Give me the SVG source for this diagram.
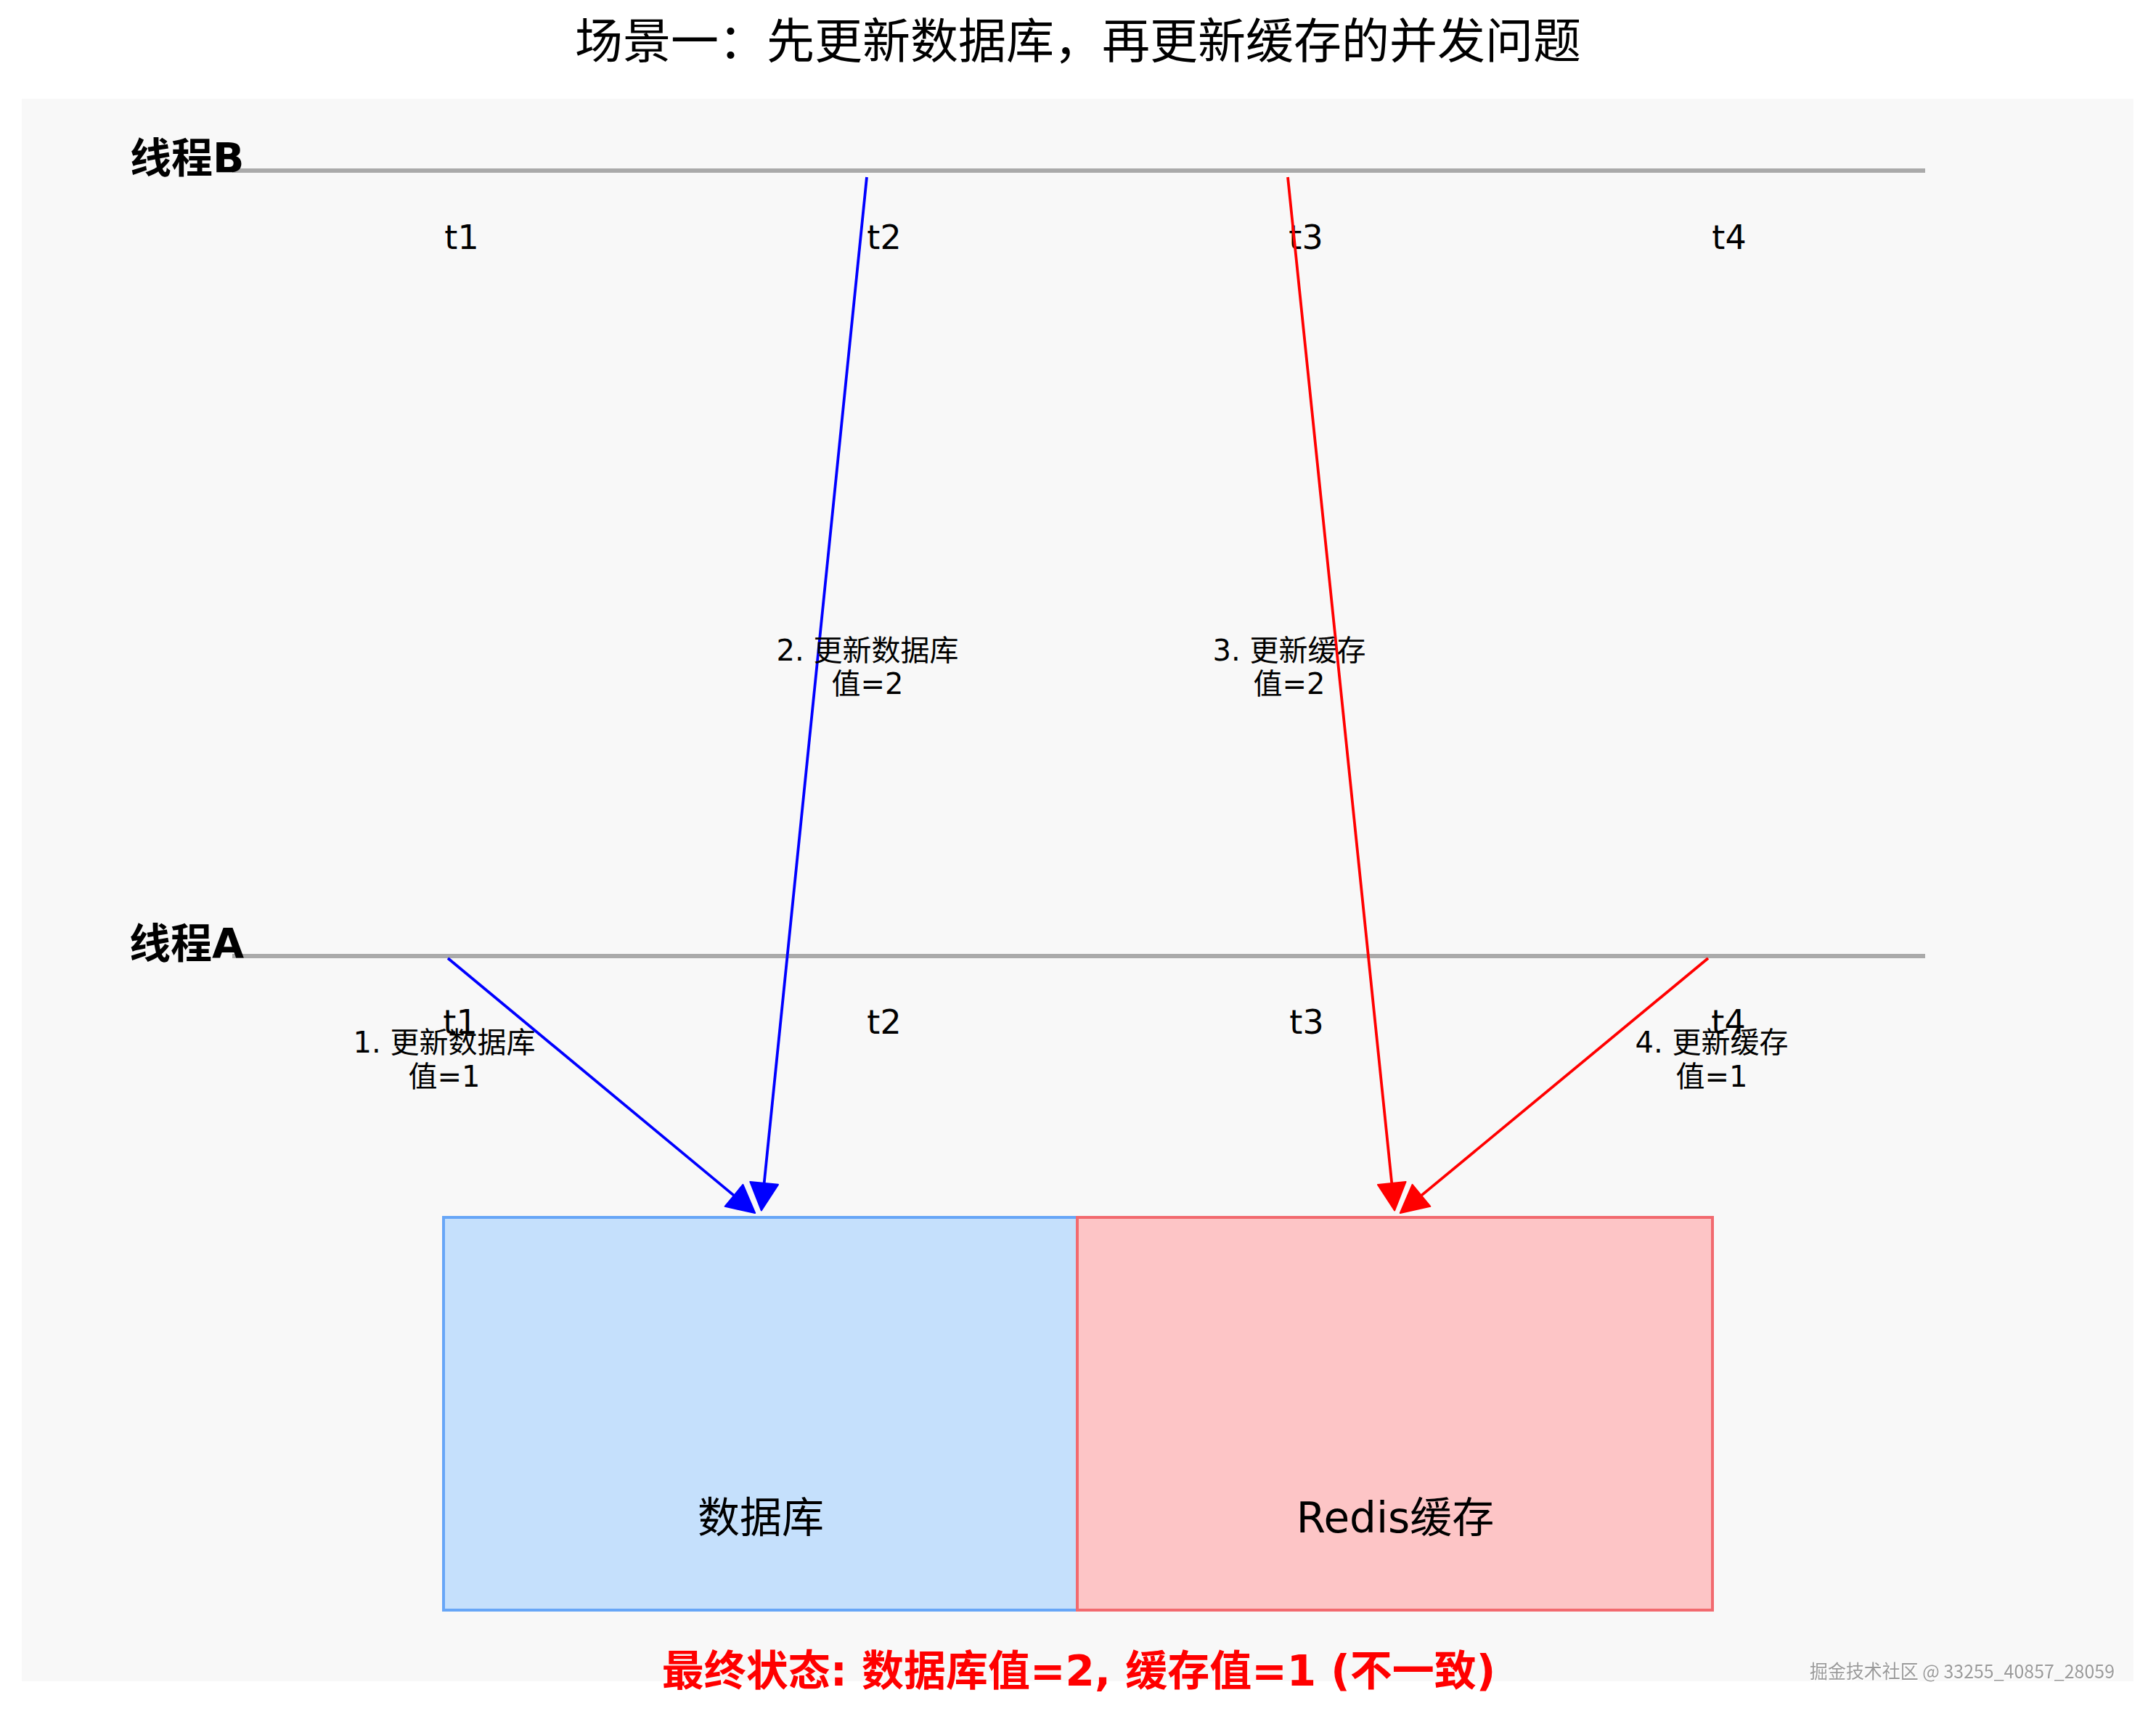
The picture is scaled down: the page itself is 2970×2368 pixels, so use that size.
<svg xmlns="http://www.w3.org/2000/svg" width="2970" height="2368" viewBox="0 0 2970 2368">
  <style>
    text { font-family: "DejaVu Sans", "Noto Sans CJK SC", sans-serif; fill: #000; }
    .title { font-size: 66px; text-anchor: middle; }
    .thread { font-size: 57px; font-weight: bold; }
    .tick { font-size: 46px; text-anchor: middle; }
    .lbl { font-size: 40px; text-anchor: middle; }
    .boxlbl { font-size: 58px; text-anchor: middle; }
    .final { font-size: 58px; font-weight: bold; text-anchor: middle; fill: #ff0000; }
    .wm { font-family: "Noto Sans CJK SC", sans-serif; font-size: 26px; fill: #9a9a9a; }
    .timeline { stroke: #aaaaaa; stroke-width: 6; fill: none; }
    .blue { stroke: #0000ff; stroke-width: 3.8; fill: none; }
    .red { stroke: #ff0000; stroke-width: 3.8; fill: none; }
  </style>
  <defs>
    <marker id="headBlue" markerUnits="userSpaceOnUse" markerWidth="44" markerHeight="44" viewBox="-2 -20 42 40" refX="6" refY="0" orient="auto">
      <path d="M0,-18.5 L36,0 L0,18.5 Z" fill="#0000ff" stroke="#0000ff" stroke-width="2" stroke-linejoin="round"/>
    </marker>
    <marker id="headRed" markerUnits="userSpaceOnUse" markerWidth="44" markerHeight="44" viewBox="-2 -20 42 40" refX="6" refY="0" orient="auto">
      <path d="M0,-18.5 L36,0 L0,18.5 Z" fill="#ff0000" stroke="#ff0000" stroke-width="2" stroke-linejoin="round"/>
    </marker>
    <filter id="emboss" x="-5%" y="-30%" width="110%" height="160%">
      <feDropShadow dx="1.5" dy="1.5" stdDeviation="0.4" flood-color="#ffffff" flood-opacity="1"/>
    </filter>
  </defs>

  <rect x="0" y="0" width="2970" height="2368" fill="#ffffff"/>
  <text class="title" x="1485" y="80">场景一：先更新数据库，再更新缓存的并发问题</text>

  <rect id="panel" x="30" y="136" width="2909" height="2180" fill="#f8f8f8"/>

  <g id="threadB">
    <line class="timeline" x1="320" y1="235" x2="2652" y2="235"/>
    <text class="thread" x="179" y="238">线程B</text>
    <text class="tick" x="636" y="343">t1</text>
    <text class="tick" x="1218" y="343">t2</text>
    <text class="tick" x="1799" y="343">t3</text>
    <text class="tick" x="2382" y="343">t4</text>
  </g>

  <g id="threadA">
    <line class="timeline" x1="320" y1="1317" x2="2652" y2="1317"/>
    <text class="thread" x="178" y="1320">线程A</text>
    <text class="tick" x="634" y="1424">t1</text>
    <text class="tick" x="1218" y="1424">t2</text>
    <text class="tick" x="1800" y="1424">t3</text>
    <text class="tick" x="2381" y="1424">t4</text>
  </g>

  <g id="database">
    <rect x="611" y="1677" width="873" height="541" fill="#c5e0fc" stroke="#67a6f7" stroke-width="4"/>
    <text class="boxlbl" x="1048" y="2111">数据库</text>
  </g>

  <g id="redis">
    <rect x="1484" y="1677" width="875" height="541" fill="#fdc5c6" stroke="#f26a6f" stroke-width="4"/>
    <text class="boxlbl" x="1922" y="2111">Redis缓存</text>
  </g>

  <g id="connectors">
    <line class="blue" x1="617" y1="1320" x2="1015.9" y2="1650.9" marker-end="url(#headBlue)"/>
    <line class="blue" x1="1194" y1="244" x2="1052.0" y2="1636.2" marker-end="url(#headBlue)"/>
    <line class="red" x1="1774" y1="244" x2="1917.9" y2="1636.2" marker-end="url(#headRed)"/>
    <line class="red" x1="2353" y1="1320" x2="1953.1" y2="1650.9" marker-end="url(#headRed)"/>
  </g>

  <g id="labels">
    <text class="lbl" x="612" y="1450">1. 更新数据库</text>
    <text class="lbl" x="612" y="1497">值=1</text>
    <text class="lbl" x="1195" y="910">2. 更新数据库</text>
    <text class="lbl" x="1195" y="956">值=2</text>
    <text class="lbl" x="1776" y="910">3. 更新缓存</text>
    <text class="lbl" x="1776" y="956">值=2</text>
    <text class="lbl" x="2358" y="1450">4. 更新缓存</text>
    <text class="lbl" x="2358" y="1497">值=1</text>
  </g>

  <text class="final" x="1486" y="2322">最终状态: 数据库值=2, 缓存值=1 (不一致)</text>
  <text class="wm" x="2493" y="2312" textLength="420" lengthAdjust="spacingAndGlyphs" filter="url(#emboss)">掘金技术社区 @ 33255_40857_28059</text>
</svg>
